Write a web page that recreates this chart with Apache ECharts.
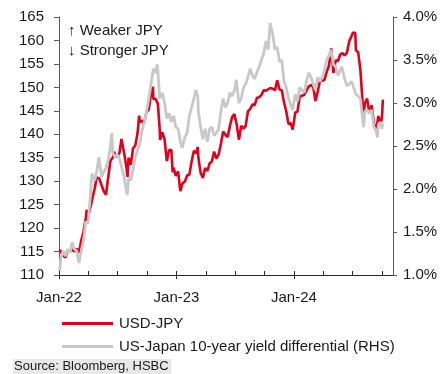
<!DOCTYPE html>
<html>
<head>
<meta charset="utf-8">
<script src="https://cdn.jsdelivr.net/npm/echarts@6/dist/echarts.min.js"></script>
<style>
html,body{margin:0;padding:0;background:#fff;}
#c{width:442px;height:374px;}
</style>
</head>
<body>
<div id="c"></div>
<script>
// ---------- DATA ----------
const xTickYears = [2022, 2023, 2024];
const xTickLabels = ['Jan-22', 'Jan-23', 'Jan-24'];

const jpyDates = [
'2022-01-03','2022-01-07','2022-01-14','2022-01-21','2022-01-28','2022-02-04','2022-02-11','2022-02-18','2022-02-25',
'2022-03-04','2022-03-11','2022-03-18','2022-03-25','2022-03-28','2022-04-01','2022-04-08','2022-04-15','2022-04-22','2022-04-28',
'2022-05-06','2022-05-13','2022-05-20','2022-05-27','2022-06-03','2022-06-10','2022-06-17','2022-06-22','2022-06-24',
'2022-07-01','2022-07-08','2022-07-14','2022-07-22','2022-07-29','2022-08-02','2022-08-05','2022-08-12','2022-08-19','2022-08-26',
'2022-09-02','2022-09-07','2022-09-09','2022-09-16','2022-09-22','2022-09-30','2022-10-07','2022-10-14','2022-10-20','2022-10-21',
'2022-10-28','2022-11-04','2022-11-10','2022-11-11','2022-11-18','2022-11-25','2022-12-02','2022-12-09','2022-12-16','2022-12-20',
'2022-12-23','2022-12-30',
'2023-01-06','2023-01-13','2023-01-16','2023-01-20','2023-01-27','2023-02-03','2023-02-10','2023-02-17','2023-02-24',
'2023-03-03','2023-03-08','2023-03-10','2023-03-17','2023-03-24','2023-03-31','2023-04-07','2023-04-14','2023-04-21','2023-04-28',
'2023-05-05','2023-05-12','2023-05-19','2023-05-26','2023-06-02','2023-06-09','2023-06-16','2023-06-23','2023-06-30',
'2023-07-07','2023-07-14','2023-07-21','2023-07-28','2023-08-04','2023-08-11','2023-08-18','2023-08-25',
'2023-09-01','2023-09-08','2023-09-15','2023-09-22','2023-09-29','2023-10-06','2023-10-13','2023-10-20','2023-10-27',
'2023-11-03','2023-11-10','2023-11-13','2023-11-17','2023-11-24','2023-12-01','2023-12-08','2023-12-15','2023-12-22','2023-12-28',
'2024-01-05','2024-01-12','2024-01-19','2024-01-26','2024-02-02','2024-02-09','2024-02-16','2024-02-23',
'2024-03-01','2024-03-08','2024-03-15','2024-03-22','2024-03-29','2024-04-05','2024-04-12','2024-04-19','2024-04-26','2024-04-29',
'2024-05-03','2024-05-10','2024-05-17','2024-05-24','2024-05-31','2024-06-07','2024-06-14','2024-06-21','2024-06-28',
'2024-07-03','2024-07-10','2024-07-12','2024-07-19','2024-07-26','2024-08-02','2024-08-05','2024-08-09','2024-08-16','2024-08-23','2024-08-30',
'2024-09-06','2024-09-13','2024-09-16','2024-09-20','2024-09-27','2024-10-01','2024-10-04'
];
const jpyValues = [
115.4,115.6,114.2,113.7,115.2,115.2,115.4,115.0,115.6,
114.8,117.3,119.2,122.0,123.9,122.5,124.3,126.4,128.5,130.8,
130.6,129.2,127.9,127.1,130.9,134.4,135.0,136.3,135.2,
135.2,136.1,139.0,136.1,133.2,130.9,135.0,133.5,137.0,137.6,
140.2,144.0,142.6,142.9,142.4,144.7,145.3,148.7,150.1,147.6,
147.5,146.6,141.0,138.8,140.4,138.9,134.3,136.6,136.7,131.9,
132.9,131.1,
132.1,127.9,128.2,129.6,129.9,131.2,131.4,134.2,136.5,
135.9,137.3,135.0,131.8,130.7,132.8,132.2,133.8,134.2,136.3,
134.8,135.7,138.0,140.6,139.9,139.4,141.8,143.7,144.3,
142.1,138.8,141.8,141.2,141.8,144.9,145.4,146.4,
146.2,147.8,147.9,148.4,149.4,149.3,149.6,149.9,149.7,
149.4,151.5,151.7,149.6,149.4,146.8,144.9,142.2,142.4,141.0,
144.6,144.9,148.1,148.2,148.4,149.3,150.2,150.5,
150.1,147.1,149.1,151.4,151.4,151.6,153.3,154.6,158.3,156.2,
153.1,155.8,155.6,157.0,157.3,156.8,157.4,159.8,160.9,
161.7,161.6,157.9,157.5,153.7,146.5,144.2,146.6,147.6,144.4,146.2,
142.3,140.8,140.6,143.9,142.2,143.6,147.4
];

const ydDates = [
'2022-01-03','2022-01-07','2022-01-14','2022-01-21','2022-01-28','2022-02-04','2022-02-11','2022-02-18','2022-02-25',
'2022-03-04','2022-03-07','2022-03-11','2022-03-18','2022-03-25','2022-04-01','2022-04-08','2022-04-13','2022-04-22','2022-04-29',
'2022-05-05','2022-05-13','2022-05-20','2022-05-27','2022-06-03','2022-06-10','2022-06-14','2022-06-17','2022-06-24',
'2022-07-01','2022-07-08','2022-07-15','2022-07-22','2022-07-29','2022-08-01','2022-08-05','2022-08-12','2022-08-19','2022-08-26',
'2022-09-02','2022-09-09','2022-09-16','2022-09-23','2022-09-30','2022-10-07','2022-10-14','2022-10-21','2022-10-28','2022-11-02',
'2022-11-04','2022-11-10','2022-11-18','2022-11-25','2022-12-02','2022-12-09','2022-12-16','2022-12-23','2022-12-30',
'2023-01-06','2023-01-13','2023-01-19','2023-01-27','2023-02-03','2023-02-10','2023-02-17','2023-02-24',
'2023-03-02','2023-03-08','2023-03-10','2023-03-17','2023-03-24','2023-03-31','2023-04-07','2023-04-14','2023-04-21','2023-04-28',
'2023-05-05','2023-05-12','2023-05-19','2023-05-26','2023-06-02','2023-06-09','2023-06-16','2023-06-23','2023-06-30',
'2023-07-06','2023-07-14','2023-07-21','2023-07-28','2023-08-04','2023-08-11','2023-08-18','2023-08-25',
'2023-09-01','2023-09-08','2023-09-15','2023-09-22','2023-09-29','2023-10-06','2023-10-13','2023-10-19','2023-10-27',
'2023-11-03','2023-11-10','2023-11-17','2023-11-24','2023-12-01','2023-12-08','2023-12-15','2023-12-22','2023-12-28',
'2024-01-05','2024-01-12','2024-01-19','2024-01-26','2024-02-02','2024-02-09','2024-02-16','2024-02-23',
'2024-03-01','2024-03-08','2024-03-15','2024-03-22','2024-03-29','2024-04-05','2024-04-12','2024-04-19','2024-04-25',
'2024-05-03','2024-05-10','2024-05-17','2024-05-24','2024-05-29','2024-06-07','2024-06-14','2024-06-21','2024-06-28',
'2024-07-05','2024-07-12','2024-07-19','2024-07-26','2024-08-02','2024-08-05','2024-08-09','2024-08-16','2024-08-23','2024-08-30',
'2024-09-06','2024-09-13','2024-09-17','2024-09-20','2024-09-27','2024-10-01','2024-10-04'
];
const ydValues = [
1.05,1.20,1.28,1.22,1.30,1.26,1.38,1.30,1.28,
1.14,1.12,1.28,1.40,1.62,1.60,1.90,2.18,2.10,2.22,
2.37,2.14,2.20,2.24,2.34,2.50,2.65,2.42,2.37,
2.40,2.35,2.25,2.15,1.98,1.93,2.12,2.10,2.22,2.37,
2.45,2.52,2.68,2.78,2.90,3.05,3.22,3.40,3.35,3.45,
3.38,3.05,3.12,3.00,2.82,2.88,2.78,2.85,2.72,
2.70,2.55,2.48,2.60,2.65,2.85,2.95,3.05,
3.15,3.08,2.90,2.72,2.58,2.70,2.55,2.70,2.72,2.62,
2.65,2.70,2.90,3.05,2.95,3.00,3.12,3.08,3.15,
3.27,3.00,3.05,3.18,3.22,3.30,3.40,3.32,
3.28,3.36,3.42,3.50,3.58,3.72,3.62,3.93,3.80,
3.62,3.65,3.48,3.50,3.25,3.18,3.05,2.98,2.92,
3.10,3.02,3.18,3.15,3.12,3.25,3.35,3.30,
3.22,3.15,3.30,3.25,3.30,3.38,3.50,3.55,3.62,
3.45,3.42,3.32,3.38,3.42,3.28,3.20,3.22,3.25,
3.18,3.10,3.08,3.05,2.80,2.72,2.90,2.92,2.88,2.92,
2.72,2.68,2.60,2.75,2.78,2.70,2.76
];

const seriesNames = ['USD-JPY', 'US-Japan 10-year yield differential (RHS)'];

// ---------- helpers ----------
function toYear(s) {
  const p = s.split('-').map(Number);
  const start = Date.UTC(p[0], 0, 1), end = Date.UTC(p[0] + 1, 0, 1);
  return p[0] + (Date.UTC(p[0], p[1] - 1, p[2]) - start) / (end - start);
}
const jpyData = jpyDates.map((d, i) => [toYear(d), jpyValues[i]]);
const ydData = ydDates.map((d, i) => [toYear(d), ydValues[i]]);
const quarterTicks = [];
for (let q = 0; q <= 11; q++) quarterTicks.push(2022 + q * 0.25);

const FONT = "'Liberation Sans', Arial, sans-serif";
const TXT = '#1a1a1a';
const X_MIN = 2022, X_MAX = 2024.843;

const chart = echarts.init(document.getElementById('c'), null, {renderer: 'canvas'});
chart.setOption({
  animation: false,
  backgroundColor: '#ffffff',
  textStyle: {fontFamily: FONT},
  grid: {left: 59, right: 49, top: 17, bottom: 99, containLabel: false},
  xAxis: [
    {
      type: 'value', min: X_MIN, max: X_MAX, interval: 0.25, position: 'bottom',
      axisLine: {show: true, lineStyle: {color: '#262626', width: 1}},
      axisTick: {show: true, inside: true, length: 4, customValues: quarterTicks, lineStyle: {color: '#262626'}},
      axisLabel: {
        show: true, customValues: xTickYears, margin: 15, fontSize: 15, color: TXT, fontFamily: FONT,
        formatter: function (v) {
          const i = xTickYears.indexOf(Math.round(v));
          return (Math.abs(v - Math.round(v)) < 1e-6 && i >= 0) ? xTickLabels[i] : '';
        }
      },
      splitLine: {show: false}
    },
    {
      type: 'value', min: X_MIN, max: X_MAX, interval: 1, position: 'bottom', gridIndex: 0,
      axisLine: {show: false},
      axisTick: {show: true, inside: false, length: 4, customValues: xTickYears, lineStyle: {color: '#262626'}},
      axisLabel: {show: false},
      splitLine: {show: false}
    }
  ],
  yAxis: [
    {
      type: 'value', min: 110, max: 165, interval: 5, position: 'left',
      axisLine: {show: true, lineStyle: {color: '#595959'}},
      axisTick: {show: true, inside: false, length: 5, lineStyle: {color: '#595959'}},
      axisLabel: {fontSize: 15, color: TXT, margin: 15, fontFamily: FONT},
      splitLine: {show: false}
    },
    {
      type: 'value', min: 1, max: 4, interval: 0.5, position: 'right',
      axisLine: {show: true, lineStyle: {color: '#595959'}},
      axisTick: {show: true, inside: false, length: 4, lineStyle: {color: '#595959'}},
      axisLabel: {fontSize: 15, color: TXT, margin: 10, fontFamily: FONT,
        formatter: v => v.toFixed(1) + '%'},
      splitLine: {show: false}
    }
  ],
  legend: {
    show: true, orient: 'vertical', left: 62, top: 315, padding: 0,
    icon: 'rect', itemWidth: 51, itemHeight: 3, itemGap: 6,
    textStyle: {fontSize: 15, color: TXT, fontFamily: FONT, lineHeight: 17, padding: [0, 0, 0, 1]},
    data: seriesNames
  },
  series: [
    {
      name: seriesNames[0], type: 'line', xAxisIndex: 0, yAxisIndex: 0,
      data: jpyData, showSymbol: false, symbol: 'none',
      lineStyle: {color: '#e3001b', width: 2.6}, itemStyle: {color: '#e3001b'}, z: 2
    },
    {
      name: seriesNames[1], type: 'line', xAxisIndex: 0, yAxisIndex: 1,
      data: ydData, showSymbol: false, symbol: 'none',
      lineStyle: {color: '#c8c8c8', width: 2.8}, itemStyle: {color: '#c8c8c8'}, z: 3
    }
  ],
  graphic: [
    {type: 'text', left: 68, top: 23, style: {text: '\u2191 Weaker JPY', fontSize: 15, fill: TXT, fontFamily: FONT}},
    {type: 'text', left: 68, top: 43, style: {text: '\u2193 Stronger JPY', fontSize: 15, fill: TXT, fontFamily: FONT}},
    {type: 'text', left: 13, top: 359, style: {text: 'Source: Bloomberg, HSBC', fontSize: 13, fill: TXT, fontFamily: FONT,
      backgroundColor: '#e8e8e8', padding: [1, 3, 1, 1]}}
  ]
});
</script>
</body>
</html>
